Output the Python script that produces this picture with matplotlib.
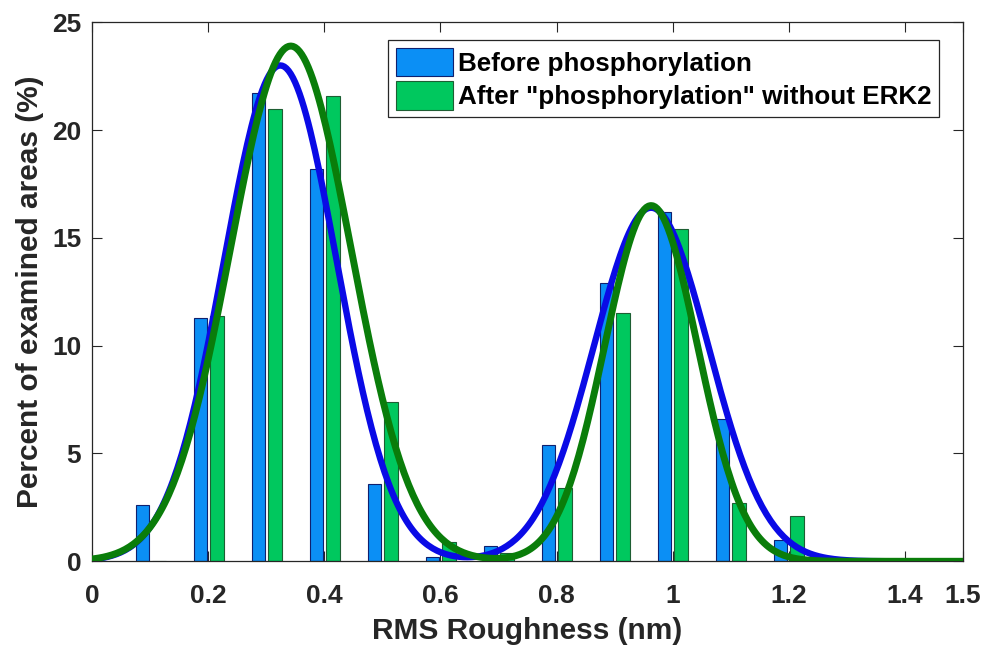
import numpy as np
import matplotlib
matplotlib.use("Agg")
import matplotlib.pyplot as plt

plt.rcParams['font.family'] = ['Liberation Sans', 'DejaVu Sans']
plt.rcParams['font.weight'] = 'bold'

# histogram bins (nm) and percentages
bins = [0.1, 0.2, 0.3, 0.4, 0.5, 0.6, 0.7, 0.8, 0.9, 1.0, 1.1, 1.2]
antes = [2.6, 11.3, 21.7, 18.2, 3.6, 0.2, 0.7, 5.4, 12.9, 16.2, 6.6, 1.0]
depois = [0.0, 11.4, 21.0, 21.6, 7.4, 0.9, 0.4, 3.4, 11.5, 15.4, 2.7, 2.1]

# gaussian fits (centro, sigma, altura) for the two peaks
fit_antes_mu = [0.324, 0.963]
fit_antes_sig = [0.097, 0.099]
fit_antes_amp = [23.0, 16.4]
fit_depois_mu = [0.342, 0.963]
fit_depois_sig = [0.104, 0.080]
fit_depois_amp = [23.9, 16.5]

xticks = [0, 0.2, 0.4, 0.6, 0.8, 1.0, 1.2, 1.4, 1.5]
xtick_labels = ['0', '0.2', '0.4', '0.6', '0.8', '1', '1.2', '1.4', '1.5']
yticks = [0, 5, 10, 15, 20, 25]


def gauss_fit(x, mus, sigs, amps):
    y = np.zeros_like(x)
    for m, s, a in zip(mus, sigs, amps):
        y += a * np.exp(-(x - m) ** 2 / (2 * s ** 2))
    return y


fig = plt.figure(figsize=(9.84, 6.48), dpi=100)
ax = fig.add_axes([92.3 / 984, (648 - 561.3) / 648, (962.7 - 92.3) / 984, (561.3 - 22.3) / 648])

b = np.array(bins)
ax.bar(b - 0.0135, antes, width=0.0225, color='#0b8ff5', edgecolor='#10206e', linewidth=0.8,
       label='Before phosphorylation', zorder=2)
ax.bar(b + 0.0145, depois, width=0.024, color='#00c85e', edgecolor='#1d5e33', linewidth=0.8,
       label='After "phosphorylation" without ERK2', zorder=2)

xs = np.linspace(0, 1.5, 400)
ax.plot(xs, gauss_fit(xs, fit_antes_mu, fit_antes_sig, fit_antes_amp), color='#0a0ae6', lw=4.6, zorder=3)
ax.plot(xs, gauss_fit(xs, fit_depois_mu, fit_depois_sig, fit_depois_amp), color='#0a7d0a', lw=5.0, zorder=4)

ax.set_xlim(0, 1.5)
ax.set_ylim(0, 25)
ax.set_xticks(xticks)
ax.set_xticklabels(xtick_labels)
ax.set_yticks(yticks)
ax.tick_params(direction='in', top=True, right=True, length=7, width=0.8,
               labelsize=19, colors='#262626', pad=8)
ax.tick_params(axis='x', pad=16)
for s in ax.spines.values():
    s.set_color('#262626')
    s.set_linewidth(0.9)

ax.set_xlabel('RMS Roughness (nm)', fontsize=21.5, fontweight='bold', color='#262626', labelpad=7)
ax.set_ylabel('Percent of examined areas (%)', fontsize=21.5, fontweight='bold', color='#262626', labelpad=6)

leg = ax.legend(loc='upper left', bbox_to_anchor=(388 / 984, 1 - 40 / 648),
                bbox_transform=fig.transFigure, fontsize=18.7, fancybox=False,
                edgecolor='#262626', framealpha=1, handlelength=2.2, handleheight=1.3,
                handletextpad=0.2, borderpad=0.3, labelspacing=0.2, borderaxespad=0)
leg.get_frame().set_linewidth(0.9)
for t in leg.get_texts():
    t.set_fontweight('bold')

fig.savefig('out.png', dpi=100)
